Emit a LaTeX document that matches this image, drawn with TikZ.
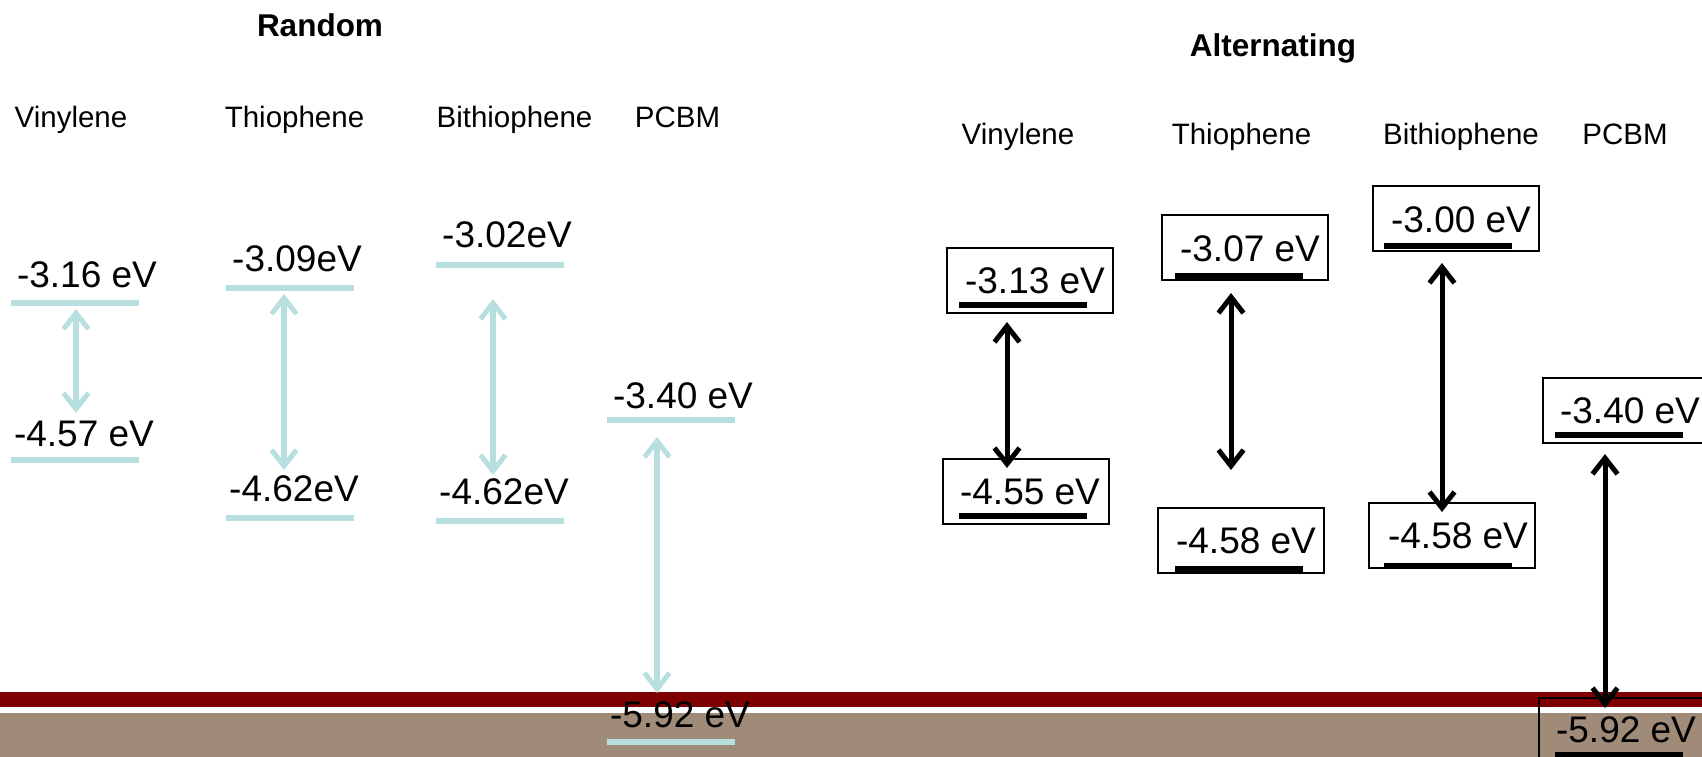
\documentclass[tikz,border=0pt]{standalone}
\usepackage{fontspec}
\setmainfont{Liberation Sans}
\usetikzlibrary{arrows.meta}
\definecolor{lblue}{HTML}{B7DFE0}
\definecolor{dred}{HTML}{7F0000}
\definecolor{taupe}{HTML}{9F8B77}
\begin{document}
\begin{tikzpicture}[x=1pt,y=-1pt,
  ttl/.style={font=\fontsize{31.5}{34}\selectfont\bfseries, anchor=base, inner sep=0},
  hd/.style={font=\fontsize{29.5}{32}\selectfont, anchor=base, inner sep=0},
  val/.style={font=\fontsize{37}{40}\selectfont, anchor=base, inner sep=0},
  lbar/.style={fill=lblue, minimum width=128pt, minimum height=6pt, inner sep=0, draw=none},
  kbar/.style={fill=black, minimum width=128pt, minimum height=6pt, inner sep=0, draw=none},
  ebox/.style={draw=black, line width=2pt, minimum width=166pt, minimum height=65pt, inner sep=0, anchor=north west},
  tip/.tip={Straight Barb[length=16pt,width=25pt,line width=5pt]},
  larr/.style={draw=lblue, line width=5.5pt, tip-tip},
  karr/.style={draw=black, line width=5pt, tip-tip}
]
\useasboundingbox (0,0) rectangle (1702,757);
% background bands
\fill[dred] (0,692) rectangle (1702,707);
\fill[taupe] (0,713) rectangle (1702,757);

% ---------------- Random ----------------
\node[ttl] (tR) at (320,37) {Random};
\node[hd] (hRV) at (71,128) {Vinylene};
\node[hd] (hRT) at (294.5,128) {Thiophene};
\node[hd] (hRB) at (514.5,128) {Bithiophene};
\node[hd] (hRP) at (677.5,128) {PCBM};

% Vinylene
\node[lbar] (rV1) at (75,303) {};
\node[val] (vrV1) at (87,287) {-3.16 eV};
\node[lbar] (rV2) at (75,460) {};
\node[val] (vrV2) at (84,446) {-4.57 eV};
\coordinate (arV1) at (76,309);
\coordinate (arV2) at (76,413);
\draw[larr] (arV1) -- (arV2);

% Thiophene
\node[lbar] (rT1) at (290,288) {};
\node[val] (vrT1) at (297,271) {-3.09eV};
\node[lbar] (rT2) at (290,518) {};
\node[val] (vrT2) at (294,501) {-4.62eV};
\coordinate (arT1) at (284,294);
\coordinate (arT2) at (284,470);
\draw[larr] (arT1) -- (arT2);

% Bithiophene
\node[lbar] (rB1) at (499.5,265) {};
\node[val] (vrB1) at (507,247) {-3.02eV};
\node[lbar] (rB2) at (499.5,521) {};
\node[val] (vrB2) at (504,504) {-4.62eV};
\coordinate (arB1) at (493,299);
\coordinate (arB2) at (493,475);
\draw[larr] (arB1) -- (arB2);

% PCBM
\node[lbar] (rP1) at (671,420) {};
\node[val] (vrP1) at (683,408) {-3.40 eV};
\node[lbar] (rP2) at (671,742) {};
\node[val] (vrP2) at (680,727) {-5.92 eV};
\coordinate (arP1) at (657,437);
\coordinate (arP2) at (657,693);
\draw[larr] (arP1) -- (arP2);

% ---------------- Alternating ----------------
\node[ttl] (tA) at (1273,57) {Alternating};
\node[hd] (hAV) at (1018,144) {Vinylene};
\node[hd] (hAT) at (1241.5,144) {Thiophene};
\node[hd] (hAB) at (1461,144) {Bithiophene};
\node[hd] (hAP) at (1625,144) {PCBM};

% Vinylene
\node[ebox] (bV1) at (946,247) {};
\node[val] (vaV1) at (1035,293) {-3.13 eV};
\node[kbar] (kV1) at (1023,304.5) {};
\node[ebox] (bV2) at (942,458) {};
\node[val] (vaV2) at (1030,504) {-4.55 eV};
\node[kbar] (kV2) at (1023,515.5) {};
\coordinate (aaV1) at (1007,322);
\coordinate (aaV2) at (1007,468);
\draw[karr] (aaV1) -- (aaV2);

% Thiophene
\node[ebox] (bT1) at (1161,214) {};
\node[val] (vaT1) at (1250,261) {-3.07 eV};
\node[kbar] (kT1) at (1238.5,276) {};
\node[ebox] (bT2) at (1157,507) {};
\node[val] (vaT2) at (1246,553) {-4.58 eV};
\node[kbar] (kT2) at (1238.5,568.5) {};
\coordinate (aaT1) at (1231,293);
\coordinate (aaT2) at (1231,470);
\draw[karr] (aaT1) -- (aaT2);

% Bithiophene
\node[ebox] (bB1) at (1372,185) {};
\node[val] (vaB1) at (1461,232) {-3.00 eV};
\node[kbar] (kB1) at (1448,246) {};
\node[ebox] (bB2) at (1368,502) {};
\node[val] (vaB2) at (1458,548) {-4.58 eV};
\node[kbar] (kB2) at (1448,565.5) {};
\coordinate (aaB1) at (1442,263);
\coordinate (aaB2) at (1442,512);
\draw[karr] (aaB1) -- (aaB2);

% PCBM
\node[ebox] (bP1) at (1542,377) {};
\node[val] (vaP1) at (1630,423) {-3.40 eV};
\node[kbar] (kP1) at (1618.5,435) {};
\node[ebox] (bP2) at (1538,697) {};
\node[val] (vaP2) at (1626,742) {-5.92 eV};
\node[kbar] (kP2) at (1618.5,755) {};
\coordinate (aaP1) at (1605,454);
\coordinate (aaP2) at (1605,708);
\draw[karr] (aaP1) -- (aaP2);
\end{tikzpicture}
\end{document}
